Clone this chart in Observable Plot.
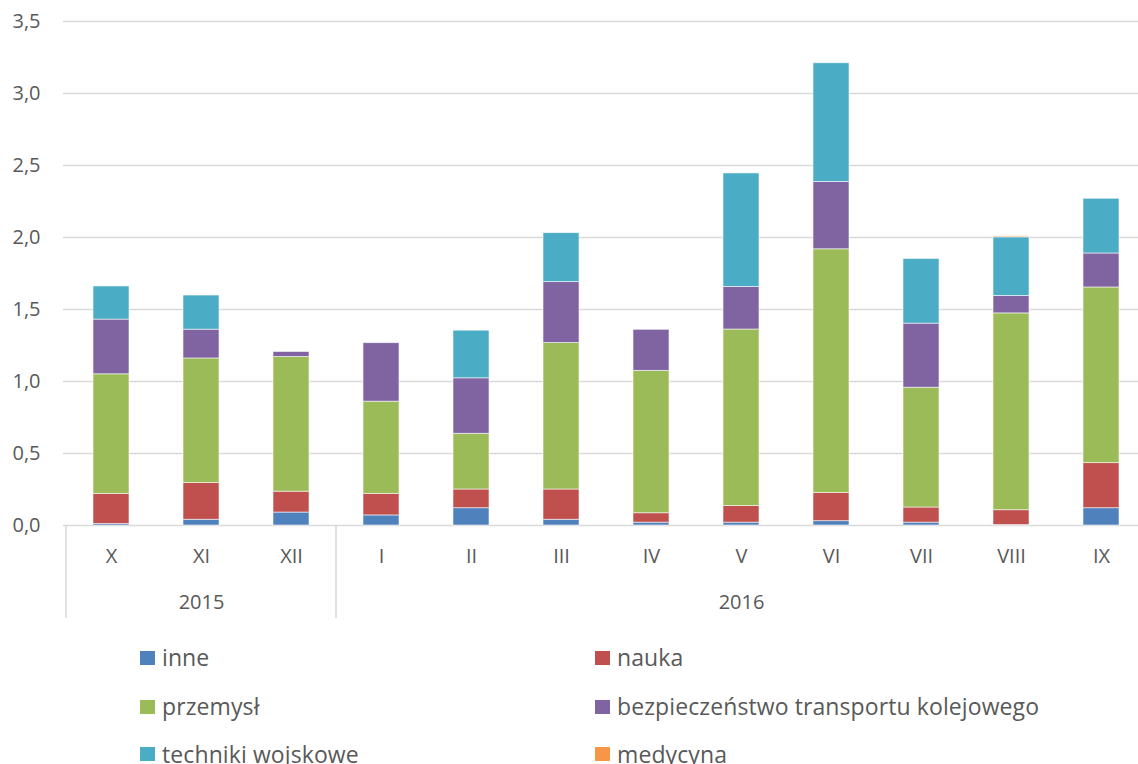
<!DOCTYPE html>
<html>
<head>
<meta charset="utf-8">
<script src="https://cdn.jsdelivr.net/npm/d3@7"></script>
<script src="https://cdn.jsdelivr.net/npm/@observablehq/plot@0.6"></script>
<style>
  html, body { margin: 0; padding: 0; background: #fff; overflow: hidden; width: 1138px; height: 764px; }
  body { font-family: "Open Sans", sans-serif; color: #595959; position: relative; }
  #chart { width: 1138px; overflow: hidden; }
  #chart svg { display: block; max-width: none !important; }
  .leg { position: absolute; display: flex; align-items: center; font-size: 23px; color: #595959; white-space: nowrap; line-height: 1; letter-spacing: 0.1px; }
  .leg .sw { width: 15px; height: 14px; margin-right: 7px; flex: none; }
</style>
</head>
<body>
<div id="chart"></div>
<div id="legend"></div>
<script>
// Categories
const months = ["X", "XI", "XII", "I", "II", "III", "IV", "V", "VI", "VII", "VIII", "IX"];
const yearOf = ["2015", "2015", "2015", "2016", "2016", "2016", "2016", "2016", "2016", "2016", "2016", "2016"];
const years = ["2015", "2016"];

// Series
const seriesNames = ["inne", "nauka", "przemysł", "bezpieczeństwo transportu kolejowego", "techniki wojskowe", "medycyna"];
const seriesColors = ["#4F81BD", "#C0504D", "#9BBB59", "#8064A2", "#4BACC6", "#F79646"];

const inne      = [0.01, 0.04, 0.09, 0.07, 0.12, 0.04, 0.02, 0.02, 0.03, 0.02, 0.003, 0.12];
const nauka     = [0.21, 0.255, 0.145, 0.15, 0.13, 0.21, 0.065, 0.115, 0.195, 0.105, 0.103, 0.313];
const przemysl  = [0.83, 0.865, 0.935, 0.64, 0.387, 1.017, 0.989, 1.226, 1.693, 0.832, 1.367, 1.22];
const bezp      = [0.38, 0.2, 0.035, 0.406, 0.385, 0.423, 0.285, 0.296, 0.468, 0.445, 0.121, 0.236];
const techniki  = [0.23, 0.237, 0, 0, 0.331, 0.34, 0, 0.788, 0.824, 0.449, 0.407, 0.38];
const medycyna  = [0, 0, 0, 0, 0, 0, 0, 0, 0, 0, 0.007, 0];

const yTicks = [0, 0.5, 1, 1.5, 2, 2.5, 3, 3.5];

const seriesValues = [inne, nauka, przemysl, bezp, techniki, medycyna];
const data = [];
seriesNames.forEach((s, si) => {
  months.forEach((m, mi) => {
    data.push({month: m, series: s, value: seriesValues[si][mi]});
  });
});

// Year labels centred on their group of months
const yearLabels = years.map(y => {
  const idx = months.map((m, i) => i).filter(i => yearOf[i] === y);
  return {year: y, mid: months[idx[Math.floor(idx.length / 2)]]};
});

const W = 1150, H = 622;
const plot = Plot.plot({
  width: W,
  height: H,
  marginLeft: 63,
  marginRight: 1,
  marginTop: 21,
  marginBottom: 97,
  style: {fontFamily: "'Open Sans', sans-serif", color: "#595959", background: "transparent", maxWidth: "none"},
  x: {domain: months, paddingInner: 0.6, paddingOuter: 0.3, axis: null},
  y: {domain: [0, 3.5], axis: null},
  color: {domain: seriesNames, range: seriesColors},
  marks: [
    Plot.gridY(yTicks, {stroke: "#d9d9d9", strokeOpacity: 1, strokeWidth: 1.5}),
    Plot.axisY(yTicks, {label: null, tickSize: 0, tickPadding: 23, fontSize: 20, fill: "#595959",
      tickFormat: d => d.toFixed(1).replace(".", ",")}),
    Plot.barY(data, {x: "month", y: "value", fill: "series", order: seriesNames,
      stroke: "white", strokeWidth: 0.8, strokeOpacity: 0.7}),
    Plot.axisX(months, {label: null, tickSize: 0, tickPadding: 23, fontSize: 20, fill: "#595959"}),
    Plot.text(yearLabels, {x: "mid", text: "year", frameAnchor: "bottom", dy: 83, fontSize: 20, fill: "#595959"})
  ]
});
document.getElementById("chart").appendChild(plot);

// Category group separators using the plot's own scales
const xs = plot.scale("x");
const ys = plot.scale("y");
const gap = (xs.step - xs.bandwidth) / 2;
const y0 = ys.apply(0);
const svg = d3.select(plot);
years.forEach(y => {
  const first = months[yearOf.indexOf(y)];
  const px = xs.apply(first) - gap;
  svg.append("line")
    .attr("x1", px).attr("x2", px)
    .attr("y1", y0).attr("y2", H - 4)
    .attr("stroke", "#d9d9d9").attr("stroke-width", 1.5);
});

// Legend
const legend = document.getElementById("legend");
const colLeft = [140, 595];
const rowCenter = [657.5, 706.5, 754];
seriesNames.forEach((s, i) => {
  const item = document.createElement("div");
  item.className = "leg";
  item.style.left = colLeft[i % 2] + "px";
  item.style.top = (rowCenter[Math.floor(i / 2)] - 12) + "px";
  item.style.height = "24px";
  const sw = document.createElement("div");
  sw.className = "sw";
  sw.style.background = seriesColors[i];
  const t = document.createElement("span");
  t.textContent = s;
  item.appendChild(sw);
  item.appendChild(t);
  legend.appendChild(item);
});
</script>
</body>
</html>
